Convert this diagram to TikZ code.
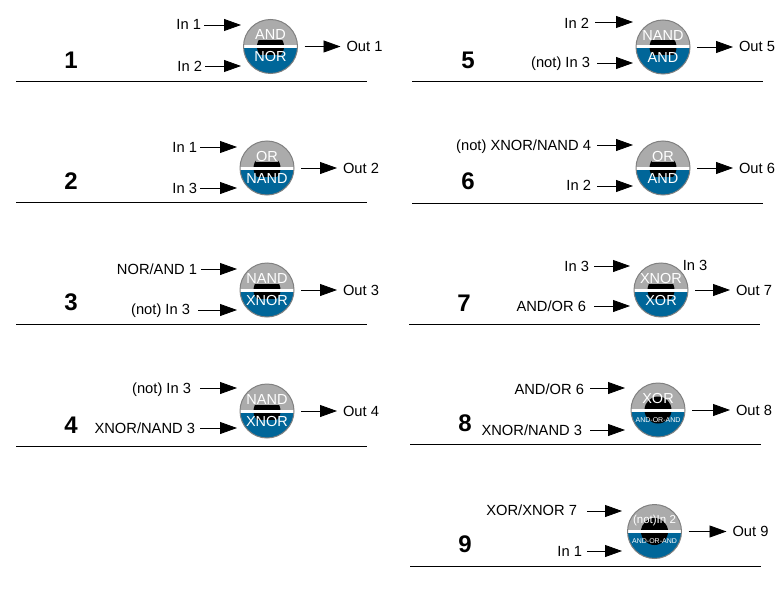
\documentclass[tikz,border=0pt]{standalone}
\usepackage{fontspec}
\setmainfont{Liberation Sans}
\usetikzlibrary{arrows.meta,positioning}
\definecolor{gatetop}{HTML}{ABABAB}
\definecolor{gatelow}{HTML}{006699}
\definecolor{gateline}{HTML}{808080}
\newcommand{\smalltxt}[1]{{\fontsize{7}{7}\selectfont #1}}
\newcommand{\midtxt}[1]{\raisebox{1.5pt}{\fontsize{11.5}{11.5}\selectfont #1}}
\tikzset{
    sig/.style={line width=.8pt,-{Triangle[length=17pt,width=12pt]}},
    siglabel/.style={font=\fontsize{14.7}{14.7}\selectfont,inner sep=3pt,outer sep=0pt,text height=10pt,text depth=0pt},
    outlabel/.style={siglabel,outer xsep=3pt},
    gatenum/.style={font=\bfseries\fontsize{24}{24}\selectfont,inner sep=0pt},
    gate/.style={circle,draw=gateline,line width=1pt,minimum size=54pt,inner sep=0pt,outer sep=2pt,
        path picture={
            \fill [gatetop] (path picture bounding box.north west) rectangle (path picture bounding box.east);
            \fill [gatelow] (path picture bounding box.west) rectangle (path picture bounding box.south east);
            \fill [black] (path picture bounding box.center) circle (13.5pt);
            \fill [white] ([yshift=1.5pt]path picture bounding box.west) rectangle ([yshift=-1.5pt]path picture bounding box.east);
        }},
    gatetxt/.style={text=white,font=\fontsize{14.5}{14.5}\selectfont,inner sep=0pt,text height=10pt,text depth=0pt},
    upfill/.style={fill=gatetop},
    lowfill/.style={fill=gatelow,text height=7pt},
    nofill/.style={}
}
\begin{document}
\begin{tikzpicture}[x=1pt,y=-1pt]
        \useasboundingbox (0,0) rectangle (781,591);
        \foreach \n/\cx/\cy/\tx/\nx/\ny/\rl/\rr/\ry/\up/\lo/\us/\ls/\dy/\ox in {
            1/270.5/46.5/241/71/60/16/367/81/AND/NOR/upfill/lowfill/12/41,
            2/267/168/237/71/181/16/367/202/OR/NAND/upfill/lowfill/12/41,
            3/267/290/237/71/302/16/367/324/NAND/XNOR/upfill/lowfill/12/41,
            4/267/411/237/71/425/16/367/446/NAND/XNOR/upfill/lowfill/12/41,
            5/663/47/633/468/60/412/763/81/NAND/AND/upfill/lowfill/12/41,
            6/663/168/633/468/181/412/763/203/OR/AND/upfill/lowfill/12/41,
            7/661/290/630/464/303/409/760/324/XNOR/XOR/upfill/lowfill/12/40,
            8/658/410/625/465/423/410/761/444/XOR/\smalltxt{AND-OR-AND}/nofill/nofill/7/43,
            9/654.5/531.5/622/465/544/410/761/566/\midtxt{(not)In 2}/\smalltxt{AND-OR-AND}/nofill/nofill/7/43}{
            \node [gate] (g\n) at (\cx,\cy) {};
            \coordinate (t\n) at (\tx,\cy);
            \node [gatetxt,\us] (u\n) at (\cx,\cy-11.5) {\up};
            \node [gatetxt,\ls] (d\n) at (\cx,\cy+\dy) {\lo};
            \node [outlabel,right=\ox pt of g\n] (o\n) {Out \n};
            \draw [sig] ([xshift=5pt]g\n.east) -- (o\n.west);
            \node [gatenum] (n\n) at (\nx,\ny) {\n};
            \coordinate (a\n) at (\rl,\ry);
            \coordinate (b\n) at (\rr,\ry);
            \draw [line width=.8pt] (a\n) -- (b\n);
        }
        \foreach \g/\k/\lbl/\lx/\ly/\ax/\ay in {
            1/a/In 1/204/25/204/25,
            1/b/In 2/205/67/205/66,
            2/a/In 1/200/147/200/147,
            2/b/In 3/200/188/200/188,
            3/a/{NOR/AND 1}/200/269/201/269,
            3/b/(not) In 3/193/309/198/310,
            4/a/(not) In 3/194/388/200/388,
            4/b/{XNOR/NAND 3}/198/428/200/428,
            5/a/In 2/592/24/595/22,
            5/b/(not) In 3/593/63/597/63,
            6/a/{(not) XNOR/NAND 4}/594/145/597/145,
            6/b/In 2/594/185/597/186,
            7/a/In 3/592/266/594/266,
            7/b/{AND/OR 6}/589/306/594/306,
            8/a/{AND/OR 6}/587/389/590/388,
            8/b/{XNOR/NAND 3}/585/430/590/430,
            9/a/{XOR/XNOR 7}/580/510/587/511,
            9/b/In 1/585/551/587/551}{
            \node [siglabel,anchor=east] (i\g\k) at (\lx,\ly) {\lbl};
            \coordinate (s\g\k) at (\ax,\ay);
            \draw [sig] (s\g\k) -- (s\g\k -| t\g);
        }
        \node [siglabel] (x7) at (695,265) {In 3};
\end{tikzpicture}
\end{document}
